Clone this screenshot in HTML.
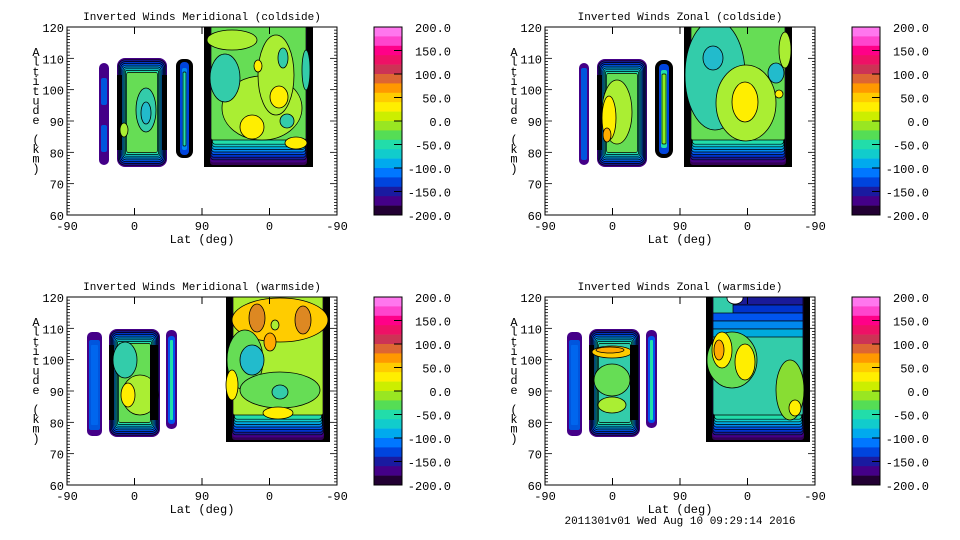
<!DOCTYPE html>
<html><head><meta charset="utf-8"><style>
html,body{margin:0;padding:0;background:#fff;}
svg{display:block;font-family:"Liberation Mono","DejaVu Sans Mono",monospace;}
</style></head><body>
<svg id="s" width="960" height="540" viewBox="0 0 960 540" xmlns="http://www.w3.org/2000/svg"></svg>
<script>
const S=document.getElementById('s');let h='';
const cm=['#ff77ee','#ff44cc','#ff0088','#ee1166','#cc3355','#dd6633','#ff9900','#ffcc00','#ffee00','#ccee00','#99e622','#55dd55','#22ddaa','#11cccc','#00aaee','#0077ff','#0044dd','#1a1aa0','#440088','#220033'];
const rings=['#440088','#1a1a99','#0033cc','#0055ee','#0088ee','#00aadd','#11cccc','#22ddaa'];
function rect(x0,y0,x1,y1,f,r,st){h+=`<rect x="${x0}" y="${y0}" width="${x1-x0}" height="${y1-y0}" rx="${r||0}" fill="${f}" ${st?'stroke="#000" stroke-width="0.7"':''}/>`;}
function ell(cx,cy,rx,ry,f){h+=`<ellipse cx="${cx}" cy="${cy}" rx="${rx}" ry="${ry}" fill="${f}" stroke="#000" stroke-width="0.8"/>`;}
function block(x0,y0,x1,y1,dx,dy,r,n,inner){
 for(let i=0;i<n;i++){rect(x0+i*dx,y0+i*dy,x1-i*dx,y1-i*dy,rings[i%rings.length],Math.max(r-i,1),i>0);}
 rect(x0+n*dx,y0+n*dy,x1-n*dx,y1-n*dy,inner,2,true);
}
function big(x0,y0,x1,y1,inner){
 rect(x0,y0,x1,y1,'#000');
 const bc=['#330055','#440088','#1a1a99','#0033cc','#0055ee','#0088ee','#00aadd','#11cccc','#22ddaa'];
 for(let i=0;i<bc.length;i++){rect(x0+6+i*0.3,y0,x1-6-i*0.3,y1-2-i*2.6,bc[i],3,i>1);}
 rect(x0+7,y0,x1-7,y1-27,inner,2,true);
}
function axes(ox,oy,title){
 const L=ox+67,R=ox+337,T=oy+27,B=oy+215;
 h+=`<rect x="${L}" y="${T}" width="${R-L}" height="${B-T}" fill="none" stroke="#000" stroke-width="1"/>`;
 for(let v=60;v<=120;v++){const y=T+(120-v)*(B-T)/60;const len=v%10==0?7:3;
  h+=`<line x1="${L}" y1="${y}" x2="${L+len}" y2="${y}" stroke="#000" stroke-width="0.8"/><line x1="${R}" y1="${y}" x2="${R-len}" y2="${y}" stroke="#000" stroke-width="0.8"/>`;
  if(v%10==0)h+=`<text x="${L-3}" y="${y+5}" font-size="12" text-anchor="end">${v}</text>`;}
 const xl=['-90','0','90','0','-90'];
 for(let i=0;i<5;i++){const x=L+i*(R-L)/4;
  h+=`<line x1="${x}" y1="${B}" x2="${x}" y2="${B-7}" stroke="#000"/><line x1="${x}" y1="${T}" x2="${x}" y2="${T+7}" stroke="#000"/>`;
  h+=`<text x="${x}" y="${B+15}" font-size="12" text-anchor="middle">${xl[i]}</text>`;}
 h+=`<text x="${ox+202}" y="${oy+243}" font-size="12" text-anchor="middle">Lat (deg)</text>`;
 h+=`<text x="${ox+202}" y="${oy+20}" font-size="11" text-anchor="middle">${title}</text>`;
 const ch='Altitude (km)';for(let i=0;i<ch.length;i++)h+=`<text x="${ox+36}" y="${oy+56+i*9.7}" font-size="12" text-anchor="middle">${ch[i]}</text>`;
 const cx=ox+374,cw=28;
 for(let i=0;i<20;i++)rect(cx,T+i*(B-T)/20,cx+cw,T+(i+1)*(B-T)/20+0.3,cm[i]);
 h+=`<rect x="${cx}" y="${T}" width="${cw}" height="${B-T}" fill="none" stroke="#000"/>`;
 const lab=['200.0','150.0','100.0','50.0','0.0','-50.0','-100.0','-150.0','-200.0'];
 for(let i=0;i<9;i++){const y=T+i*(B-T)/8;if(i>0&&i<8)h+=`<line x1="${cx+cw-8}" y1="${y}" x2="${cx+cw}" y2="${y}" stroke="#000"/>`;
  h+=`<text x="${ox+451}" y="${y+5}" font-size="12" text-anchor="end">${lab[i]}</text>`;}
}
function clipStart(ox,oy,id){h+=`<clipPath id="${id}"><rect x="${ox+67}" y="${oy+27}" width="270" height="188"/></clipPath><g clip-path="url(#${id})">`;}
const G='#66dd55',LG='#aaee33',TE='#33ccaa',Y='#ffee00',O='#ffaa00';
// Panel 1
clipStart(0,0,'c1');
rect(99,63,109,165,'#440088',5);rect(101,78,107,105,'#0055dd',2);rect(101,125,107,152,'#0055dd',2);
block(117,58,167,167,1.2,1.8,8,8,G);rect(117,75,122,150,'#000');rect(162,75,167,150,'#000');
ell(146,110,10,22,TE);ell(146,113,5,11,'#22bbcc');ell(124,130,4,7,LG);
rect(176,59,193,158,'#000',7);rect(180,62,189,155,'#0044dd',4);rect(182,68,187,150,'#0088ee',2);rect(183,72,186,146,'#22ddaa',1,true);
big(204,15,313,167,G);
ell(262,108,40,32,LG);ell(232,40,25,10,LG);ell(276,75,18,40,LG);ell(225,78,15,24,TE);ell(283,58,5,10,TE);ell(306,70,4,20,TE);
ell(252,127,12,12,Y);ell(279,97,9,11,Y);ell(258,66,4,6,Y);ell(296,143,11,6,Y);ell(287,121,7,7,TE);
h+='</g>';axes(0,0,'Inverted Winds Meridional (coldside)');
// Panel 2
clipStart(478,0,'c2');
rect(579,63,589,165,'#440088',5);rect(581,68,587,160,'#0055dd',2);
block(597,59,647,167,1.2,1.8,8,8,G);rect(597,75,602,150,'#000');
ell(617,112,15,32,LG);ell(609,118,7,22,Y);ell(607,135,4,7,O);
rect(655,60,673,158,'#000',8);rect(659,64,669,154,'#0044dd',4);rect(661,70,667,148,'#22ddaa',2);rect(662,74,666,144,'#88ee22',1,true);
big(684,15,792,167,G);
ell(715,75,30,55,TE);ell(746,103,30,38,LG);ell(745,102,13,20,Y);ell(713,58,10,12,'#22bbcc');ell(776,73,8,10,'#22bbcc');ell(779,94,4,4,Y);ell(785,50,6,18,LG);
h+='</g>';axes(478,0,'Inverted Winds Zonal (coldside)');
// Panel 3
clipStart(0,270,'c3');
rect(87,332,102,436,'#440088',5);rect(89,340,100,430,'#0055dd',2);rect(91,345,98,425,'#0066ee',1);
block(109,329,160,437,1.2,1.8,8,8,G);rect(109,345,114,420,'#000');
ell(125,360,12,18,TE);ell(140,395,18,20,LG);ell(128,395,7,12,Y);rect(150,345,158,420,'#000');
rect(166,330,177,429,'#440088',5);rect(168,336,175,424,'#0055ee',3);rect(170,340,173,420,'#22ddaa',1);
big(226,285,330,442,LG);
ell(280,320,48,22,'#ffcc00');ell(257,318,8,14,'#dd8822');ell(303,320,8,14,'#dd8822');ell(245,360,18,30,G);ell(252,360,12,15,'#22bbcc');
ell(280,390,40,18,G);ell(280,392,8,7,TE);ell(278,413,15,6,Y);ell(232,385,6,15,Y);ell(270,342,6,9,O);ell(275,325,4,5,LG);
h+='</g>';axes(0,270,'Inverted Winds Meridional (warmside)');
// Panel 4
clipStart(478,270,'c4');
rect(567,332,582,436,'#440088',5);rect(569,340,580,430,'#0055dd',2);rect(571,345,578,425,'#0066ee',1);
block(589,329,640,437,1.2,1.8,8,8,TE);rect(589,345,594,420,'#000');
ell(612,352,20,6,'#ffcc00');ell(610,350,14,3,O);ell(612,380,18,16,G);ell(612,405,14,8,LG);rect(630,345,638,420,'#000');
rect(646,330,657,428,'#440088',5);rect(648,336,655,423,'#0055ee',3);rect(650,340,653,420,'#22ddaa',1);
big(706,285,810,442,TE);
const tb=['#1a1a99','#0033cc','#0055ee','#0088ee','#00aadd'];
for(let i=0;i<tb.length;i++)rect(713+ (i<2?20:0),297+i*8,803,305+i*8,tb[i],0,true);
ell(735,298,8,6,'#fff');
ell(732,360,25,28,G);ell(722,350,10,18,Y);ell(719,350,5,10,O);ell(745,362,10,18,Y);ell(790,390,14,30,'#88dd33');ell(795,408,6,8,Y);
h+='</g>';axes(478,270,'Inverted Winds Zonal (warmside)');
h+=`<text x="680" y="524" font-size="11" text-anchor="middle">2011301v01 Wed Aug 10 09:29:14 2016</text>`;
S.innerHTML=h;
</script>
</body></html>
